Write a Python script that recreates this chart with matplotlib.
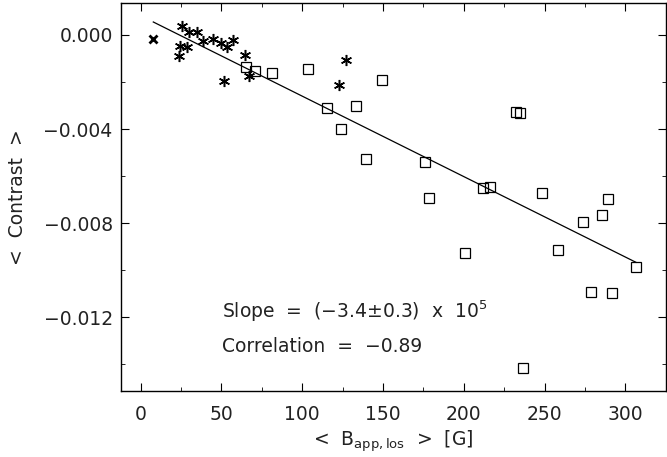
"""
Mean contrast vs. mean apparent LOS field strength, with linear fit.
Output: out.png
"""

import matplotlib
matplotlib.use("Agg")
import matplotlib.pyplot as plt
from matplotlib.ticker import MultipleLocator

# asterisks (weak-field samples)
ast_b = [25.6, 29.9, 34.7, 24.3, 28.5, 23.5, 38.8, 44.6, 49.7, 53.6, 56.9,
         64.8, 51.6, 67.3, 127.1, 122.6]
ast_c = [0.00038, 0.00011, 0.00011, -0.00045, -0.00052, -0.00088, -0.00024,
         -0.00017, -0.00035, -0.00050, -0.00021, -0.00085, -0.00197,
         -0.00174, -0.00106, -0.00214]

# squares
sq_b = [65.2, 70.6, 81.5, 103.6, 149.4, 115.3, 133.1, 124.2, 139.3,
        232.5, 234.8, 175.8, 178.7, 211.9, 216.4, 248.6, 289.3, 285.4,
        273.8, 201.0, 258.2, 306.6, 278.8, 291.8, 236.9]
sq_c = [-0.00135, -0.00152, -0.00163, -0.00145, -0.00191, -0.00309,
        -0.00302, -0.00398, -0.00526, -0.00329, -0.00333, -0.00540,
        -0.00692, -0.00650, -0.00647, -0.00673, -0.00698, -0.00767,
        -0.00795, -0.00927, -0.00913, -0.00985, -0.01094, -0.01098,
        -0.01414]

# single cross
x_b = [7.8]
x_c = [-0.00017]

# linear fit
FIT_SLOPE = -3.42e-5
FIT_INTERCEPT = 0.00082
fit_b = [7.8, 306.6]
fit_c = [FIT_INTERCEPT + FIT_SLOPE * b for b in fit_b]

plt.rcParams["font.family"] = ["DejaVu Sans"]
TXT = "#222222"

fig = plt.figure(figsize=(6.67, 4.57), dpi=100)
ax = fig.add_axes([0.1814, 0.1438, 0.8171, 0.8496])

ax.plot(fit_b, fit_c, color="black", lw=0.9)
ax.plot(sq_b, sq_c, ls="none", marker="s", ms=6.5, mfc="none",
        mec="black", mew=0.9)
ax.plot(ast_b, ast_c, ls="none", marker=(6, 2, 0), ms=8, mec="black",
        mew=1.1)
ax.plot(x_b, x_c, ls="none", marker="x", ms=6, mec="black", mew=2)

ax.set_xlim(-12.2, 325.2)
ax.set_ylim(-0.01515, 0.00136)
ax.xaxis.set_major_locator(MultipleLocator(50))
ax.xaxis.set_minor_locator(MultipleLocator(25))
ax.yaxis.set_major_locator(MultipleLocator(0.004))
ax.yaxis.set_minor_locator(MultipleLocator(0.002))
ax.yaxis.set_major_formatter(lambda v, p: f"{v:.3f}".replace("-", "\u2212"))
ax.tick_params(which="both", direction="in", top=True, right=True,
               labelsize=13.5, labelcolor=TXT)
ax.tick_params(axis="y", pad=6)
ax.tick_params(axis="x", pad=10)
ax.tick_params(which="major", length=6)
ax.tick_params(which="minor", length=3)
for s in ax.spines.values():
    s.set_linewidth(1.0)

ax.set_xlabel(r"<  B$_{\mathrm{app,los}}$  >  [G]", fontsize=13.5, color=TXT,
              labelpad=3)
ax.set_ylabel("<  Contrast  >", fontsize=13.5, color=TXT, labelpad=12)

ax.text(0.185, 0.205, "Slope  =  (\u22123.4\u00b10.3)  x  10$^{5}$",
        transform=ax.transAxes, fontsize=13.5, color=TXT, va="center")
ax.text(0.185, 0.115, "Correlation  =  \u22120.89",
        transform=ax.transAxes, fontsize=13.5, color=TXT, va="center")

fig.savefig("out.png", dpi=100)
